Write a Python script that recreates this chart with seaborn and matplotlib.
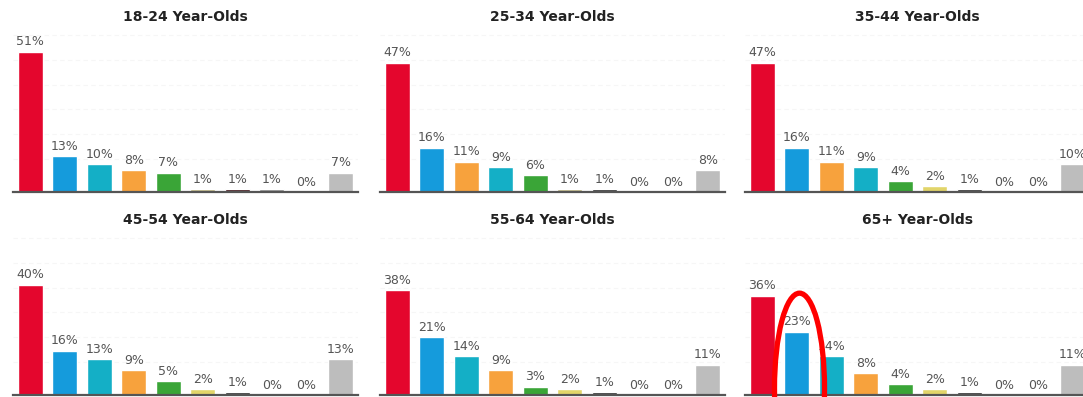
import matplotlib
matplotlib.use("Agg")
import matplotlib.pyplot as plt
from matplotlib.patches import Ellipse
import seaborn as sns
import pandas as pd

sns.set_theme(style="white")
plt.rcParams["font.family"] = ["DejaVu Sans"]

# Colour for each answer category
palette = {
    "red": "#e4062d",
    "blue": "#159bdc",
    "teal": "#14afc6",
    "orange": "#f7a23d",
    "green": "#3aa537",
    "olive": "#b9b07a",
    "yellow": "#e2d56a",
    "maroon": "#3a0a10",
    "black": "#2a2a2a",
    "slate": "#8a8a8a",
    "silver": "#bdbdbd",
}

titles = ["18-24 Year-Olds", "25-34 Year-Olds", "35-44 Year-Olds",
          "45-54 Year-Olds", "55-64 Year-Olds", "65+ Year-Olds"]

values_18_24 = [51, 13, 10, 8, 7, 1, 1, 1, 0, 7]
values_25_34 = [47, 16, 11, 9, 6, 1, 1, 0, 0, 8]
values_35_44 = [47, 16, 11, 9, 4, 2, 1, 0, 0, 10]
values_45_54 = [40, 16, 13, 9, 5, 2, 1, 0, 0, 13]
values_55_64 = [38, 21, 14, 9, 3, 2, 1, 0, 0, 11]
values_65_up = [36, 23, 14, 8, 4, 2, 1, 0, 0, 11]

colors_18_24 = ["red", "blue", "teal", "orange", "green", "olive", "maroon", "slate", "slate", "silver"]
colors_25_34 = ["red", "blue", "orange", "teal", "green", "olive", "black", "slate", "slate", "silver"]
colors_35_44 = ["red", "blue", "orange", "teal", "green", "yellow", "black", "slate", "slate", "silver"]
colors_45_54 = ["red", "blue", "teal", "orange", "green", "yellow", "black", "slate", "slate", "silver"]
colors_55_64 = ["red", "blue", "teal", "orange", "green", "yellow", "black", "slate", "slate", "silver"]
colors_65_up = ["red", "blue", "teal", "orange", "green", "yellow", "black", "slate", "slate", "silver"]

panels = list(zip(
    titles,
    [values_18_24, values_25_34, values_35_44, values_45_54, values_55_64, values_65_up],
    [colors_18_24, colors_25_34, colors_35_44, colors_45_54, colors_55_64, colors_65_up],
))

W, H = 1083, 397
fig = plt.figure(figsize=(W / 100, H / 100), dpi=100)

# panel frames in pixels: left, baseline (from top), width, height
col_left = [13, 380, 745]
row_base = [192, 395]
ax_w, ax_h = 345, 161
YMAX = 58.5

axes = []
for i, (title, vals, cols) in enumerate(panels):
    r, c = divmod(i, 3)
    left = col_left[c]
    base = row_base[r]
    ax = fig.add_axes([left / W, 1 - base / H, ax_w / W, ax_h / H])
    df = pd.DataFrame({"pos": list(range(len(vals))), "value": vals})
    sns.barplot(data=df, x="pos", y="value", hue="pos",
                palette=[palette[k] for k in cols], legend=False,
                width=0.72, saturation=1, ax=ax)
    ax.set_xlim(-0.5, 9.5)
    ax.set_ylim(0, YMAX)
    ax.set_yticks(range(12, 58, 9))
    ax.grid(axis="y", color="#f6f6f6", linestyle=(0, (4, 3)), linewidth=0.8)
    ax.set_axisbelow(True)
    ax.set_xticks([])
    ax.tick_params(left=False, labelleft=False, bottom=False, labelbottom=False)
    ax.set_xlabel("")
    ax.set_ylabel("")
    for side in ["top", "right", "left"]:
        ax.spines[side].set_visible(False)
    ax.spines["bottom"].set_color("#555555")
    ax.spines["bottom"].set_linewidth(1.6)
    for x, v in enumerate(vals):
        ax.annotate(f"{v}%", (x, v), xytext=(0, 2.5), textcoords="offset points",
                    ha="center", va="bottom", fontsize=9, color="#555555",
                    annotation_clip=False)
    fig.text((left + ax_w / 2) / W, 1 - (base - ax_h - 14) / H, title,
             ha="center", va="center", fontsize=10, fontweight="bold", color="#222222")
    axes.append(ax)

# highlight ring around the 23% bar of the oldest group
ring = Ellipse((1.08, 2.5), 1.45, 69.0, fill=False, edgecolor="#ff0000",
               linewidth=3.8, clip_on=False, zorder=10)
axes[5].add_patch(ring)

fig.savefig("out.png", dpi=100, facecolor="white")
